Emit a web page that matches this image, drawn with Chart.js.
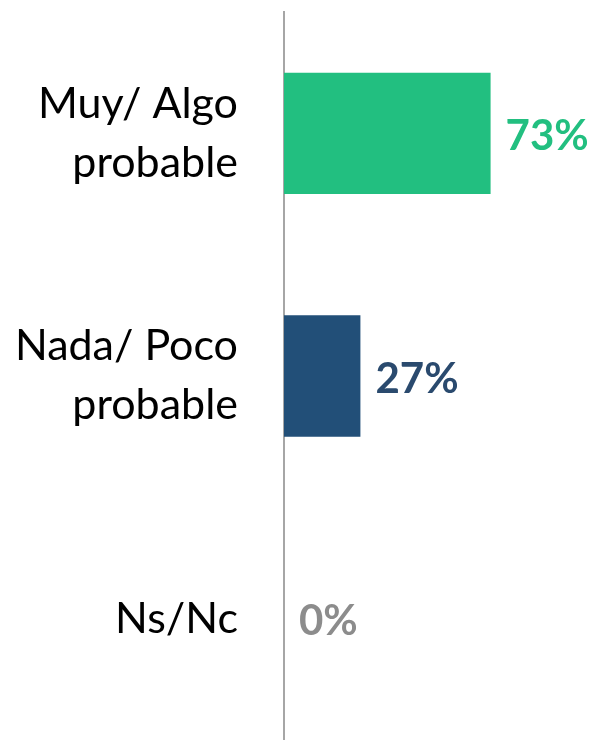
<!DOCTYPE html>
<html>
<head>
<meta charset="utf-8">
<script src="https://cdn.jsdelivr.net/npm/chart.js@4"></script>
<style>
  html, body { margin: 0; padding: 0; background: #fff; }
  #wrap { width: 594px; height: 740px; }
</style>
</head>
<body>
<div id="wrap"><canvas id="canvas-1"></canvas></div>
<script>
// data
const categorias = [['Muy/ Algo', 'probable'], ['Nada/ Poco', 'probable'], 'Ns/Nc'];
const valores = [73, 27, 0];
const etiquetas = ['73%', '27%', '0%'];
const colores = ['#22BF80', '#224F78', '#224F78'];
const coloresTexto = ['#22BF80', '#2A4A6E', '#8C8C8C'];

// etiquetas de valor al final de cada barra
const valorLabels = {
    id: 'valorLabels',
    afterDatasetsDraw(chart) {
        const ctx = chart.ctx;
        const xs = chart.scales.x;
        const ys = chart.scales.y;
        ctx.save();
        ctx.font = 'bold 42px Lato';
        ctx.textAlign = 'left';
        ctx.textBaseline = 'middle';
        valores.forEach((v, i) => {
            ctx.fillStyle = coloresTexto[i];
            ctx.fillText(etiquetas[i], xs.getPixelForValue(v) + 15, ys.getPixelForValue(i) + 3);
        });
        ctx.restore();
    }
};

const ctx = document.getElementById('canvas-1').getContext('2d');
let chart = new Chart(ctx, {
    type: 'bar',
    data: {
        labels: categorias,
        datasets: [{
            data: valores,
            backgroundColor: colores,
            borderWidth: 0,
            categoryPercentage: 1,
            barPercentage: 0.5
        }]
    },
    options: {
        indexAxis: 'y',
        responsive: true,
        maintainAspectRatio: false,
        animation: false,
        layout: { padding: { top: 12, right: 27, bottom: 0, left: 0 } },
        plugins: {
            legend: { display: false },
            tooltip: { enabled: false }
        },
        scales: {
            x: {
                display: false,
                min: 0,
                max: 100
            },
            y: {
                afterFit(scale) {
                    scale.width = 284;
                    scale.paddingTop = 0;
                    scale.paddingBottom = 0;
                },
                grid: { display: false },
                border: { display: true, color: '#A6A6A6', width: 2 },
                ticks: {
                    color: '#000',
                    padding: 38,
                    font: { family: 'Lato', size: 43, lineHeight: 1.37 }
                }
            }
        }
    },
    plugins: [valorLabels]
});
</script>
</body>
</html>
